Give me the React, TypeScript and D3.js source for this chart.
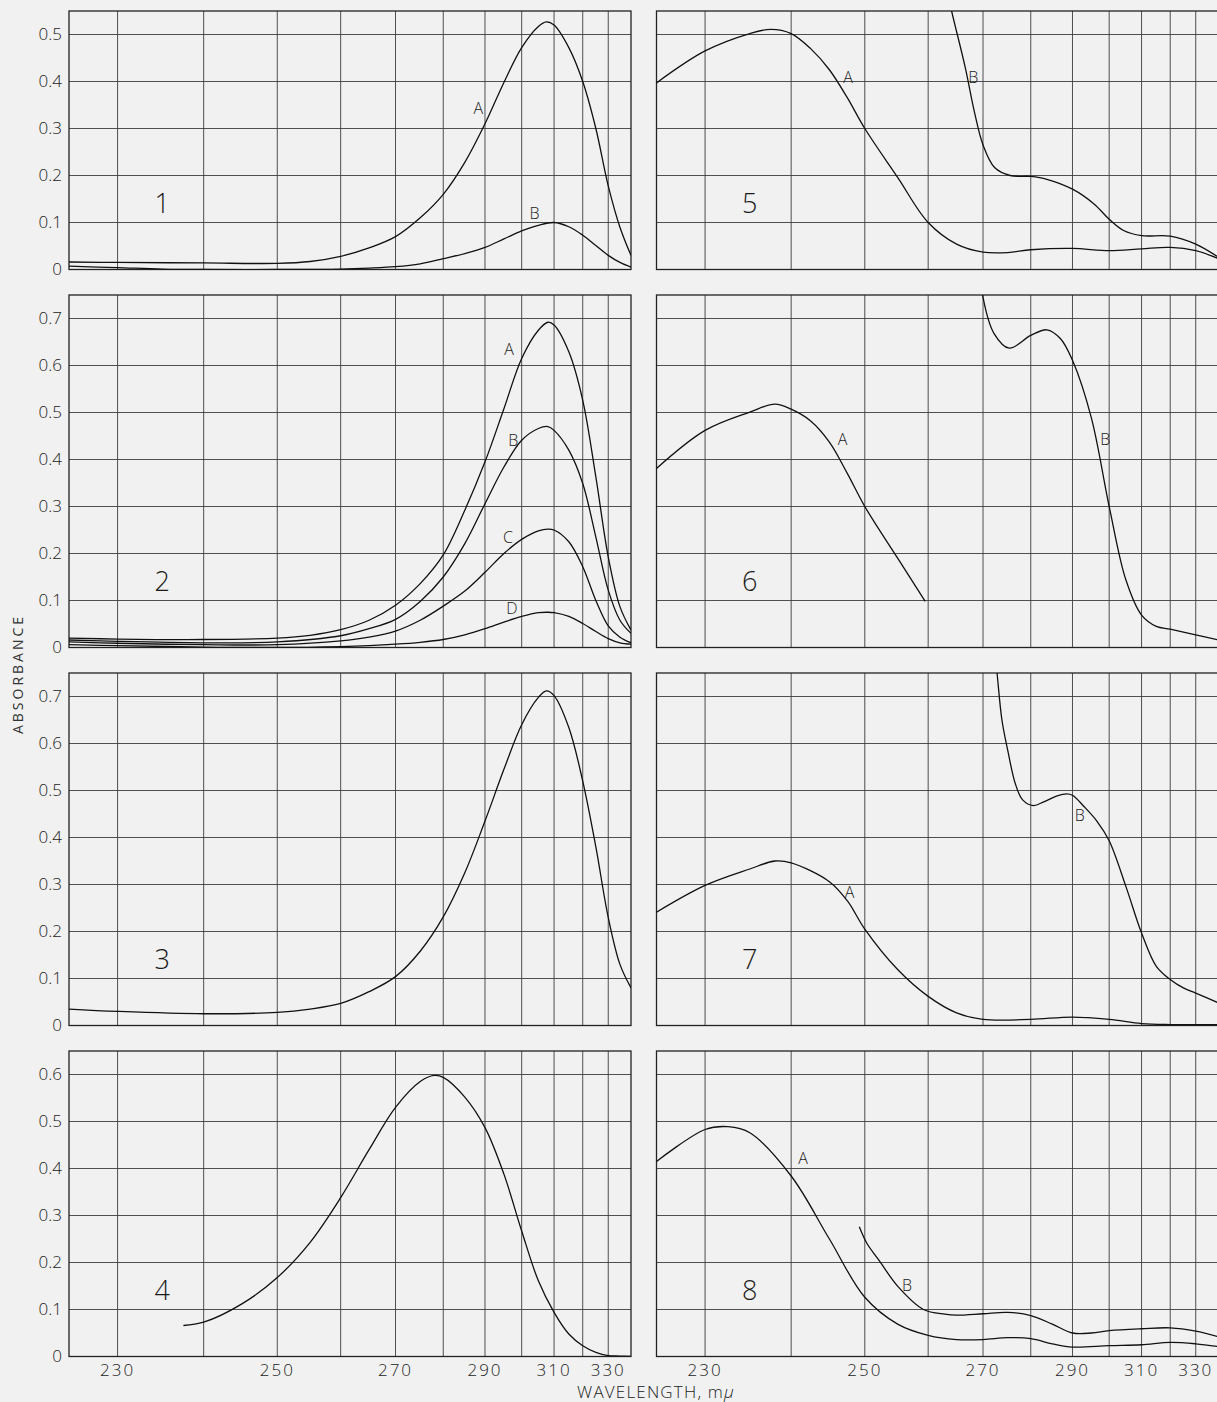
import React, { useEffect, useRef } from "react";
import * as d3 from "d3";

type Pt = [number, number];

// wavelength grid (mμ) and tick labels
const gridWavelengths = [230, 240, 250, 260, 270, 280, 290, 300, 310, 320, 330];
const wavelengthTicks = [230, 250, 270, 290, 310, 330];
const ticks055 = [0, 0.1, 0.2, 0.3, 0.4, 0.5];
const ticks065 = [0, 0.1, 0.2, 0.3, 0.4, 0.5, 0.6];
const ticks075 = [0, 0.1, 0.2, 0.3, 0.4, 0.5, 0.6, 0.7];

// panel 1
const p1A: Pt[] = [[225, 0.016], [230, 0.015], [240, 0.014], [250, 0.013], [255, 0.017], [260, 0.028], [265, 0.046], [270, 0.07], [275, 0.11], [280, 0.16], [285, 0.228], [290, 0.31], [295, 0.398], [300, 0.472], [305, 0.517], [307.5, 0.527], [310, 0.52], [315, 0.472], [320, 0.4], [325, 0.3], [330, 0.178], [335, 0.09], [340, 0.03]];
const p1B: Pt[] = [[225, 0.007], [230, 0.004], [235, 0.001], [240, 0], [250, 0], [260, 0.001], [265, 0.003], [270, 0.006], [275, 0.012], [280, 0.023], [285, 0.034], [290, 0.047], [295, 0.065], [300, 0.082], [305, 0.094], [310, 0.1], [315, 0.091], [320, 0.073], [325, 0.051], [330, 0.03], [335, 0.015], [340, 0.005]];

// panel 2
const p2A: Pt[] = [[225, 0.02], [230, 0.018], [240, 0.017], [250, 0.02], [255, 0.026], [260, 0.038], [265, 0.058], [270, 0.09], [275, 0.136], [280, 0.197], [285, 0.292], [290, 0.395], [295, 0.508], [300, 0.615], [305, 0.675], [308, 0.692], [310, 0.686], [315, 0.629], [320, 0.526], [325, 0.363], [330, 0.193], [335, 0.087], [340, 0.037]];
const p2B: Pt[] = [[225, 0.016], [230, 0.013], [240, 0.01], [250, 0.012], [260, 0.025], [265, 0.04], [270, 0.06], [275, 0.098], [280, 0.15], [285, 0.221], [290, 0.306], [295, 0.384], [300, 0.441], [305, 0.466], [308, 0.47], [310, 0.462], [315, 0.42], [320, 0.349], [325, 0.235], [330, 0.122], [335, 0.058], [340, 0.03]];
const p2C: Pt[] = [[225, 0.012], [230, 0.009], [240, 0.006], [250, 0.006], [260, 0.014], [265, 0.022], [270, 0.035], [275, 0.058], [280, 0.088], [285, 0.12], [290, 0.16], [295, 0.2], [300, 0.23], [305, 0.248], [308, 0.252], [310, 0.25], [315, 0.225], [320, 0.172], [325, 0.1], [330, 0.046], [335, 0.022], [340, 0.01]];
const p2D: Pt[] = [[225, 0.006], [230, 0.004], [240, 0.001], [250, 0], [260, 0.002], [265, 0.004], [270, 0.007], [275, 0.011], [280, 0.017], [285, 0.027], [290, 0.04], [295, 0.054], [300, 0.066], [305, 0.074], [308, 0.075], [310, 0.074], [315, 0.066], [320, 0.051], [325, 0.034], [330, 0.019], [335, 0.01], [340, 0.007]];

// panel 3
const p3: Pt[] = [[225, 0.035], [230, 0.03], [240, 0.025], [250, 0.028], [255, 0.035], [260, 0.047], [265, 0.072], [270, 0.104], [275, 0.158], [280, 0.231], [285, 0.325], [290, 0.435], [295, 0.545], [300, 0.64], [305, 0.698], [307.5, 0.712], [310, 0.702], [315, 0.634], [320, 0.52], [325, 0.38], [330, 0.23], [335, 0.13], [340, 0.08]];

// panel 4
const p4: Pt[] = [[237.5, 0.066], [240, 0.073], [245, 0.112], [250, 0.168], [255, 0.243], [260, 0.338], [265, 0.44], [270, 0.53], [275, 0.585], [278, 0.598], [280, 0.594], [285, 0.552], [290, 0.487], [295, 0.388], [300, 0.267], [305, 0.161], [310, 0.094], [315, 0.048], [320, 0.023], [325, 0.009], [330, 0.002], [335, 0.001], [340, 0]];

// panel 5
const p5A: Pt[] = [[225, 0.397], [230, 0.465], [235, 0.502], [237.5, 0.511], [240, 0.502], [242.5, 0.47], [245, 0.425], [247.5, 0.365], [250, 0.3], [255, 0.196], [260, 0.1], [265, 0.054], [270, 0.037], [275, 0.036], [280, 0.042], [290, 0.045], [300, 0.04], [310, 0.044], [320, 0.047], [330, 0.04], [340, 0.023]];
const p5B: Pt[] = [[262.6, 0.63], [264.1, 0.55], [266.6, 0.43], [268.3, 0.337], [270, 0.265], [272.3, 0.217], [275.5, 0.2], [280, 0.198], [283.7, 0.192], [290, 0.171], [295.8, 0.139], [300, 0.107], [304.3, 0.083], [310, 0.072], [320, 0.071], [330, 0.054], [340, 0.026]];

// panel 6
const p6A: Pt[] = [[225, 0.381], [230, 0.462], [235, 0.501], [238, 0.518], [240, 0.507], [242.5, 0.482], [245, 0.437], [247.5, 0.37], [250, 0.3], [255, 0.19], [259.5, 0.098]];
const p6B: Pt[] = [[269.6, 0.79], [270, 0.745], [272.2, 0.668], [275.3, 0.637], [280, 0.664], [283.7, 0.676], [287, 0.657], [290, 0.611], [295, 0.488], [300, 0.3], [305, 0.144], [310, 0.069], [315, 0.045], [320, 0.039], [330, 0.027], [340, 0.016]];

// panel 7
const p7A: Pt[] = [[225, 0.241], [230, 0.298], [235, 0.333], [238, 0.35], [240, 0.346], [245, 0.306], [247.5, 0.265], [250, 0.205], [255, 0.119], [260, 0.062], [265, 0.027], [270, 0.013], [280, 0.013], [290, 0.018], [300, 0.013], [310, 0.004], [320, 0.002], [330, 0.002], [340, 0.002]];
const p7B: Pt[] = [[272.4, 0.79], [272.8, 0.75], [273.8, 0.65], [275, 0.586], [276.6, 0.515], [278.2, 0.48], [280.6, 0.468], [283, 0.476], [286, 0.488], [288.5, 0.493], [290, 0.49], [293, 0.466], [296.5, 0.435], [300, 0.393], [305, 0.296], [310, 0.197], [315, 0.126], [320, 0.098], [325, 0.08], [330, 0.069], [340, 0.048]];

// panel 8
const p8A: Pt[] = [[225, 0.415], [230, 0.483], [232.5, 0.489], [235, 0.476], [240, 0.384], [245, 0.25], [250, 0.126], [255, 0.069], [260, 0.045], [265, 0.036], [270, 0.036], [275, 0.04], [280, 0.038], [285, 0.027], [290, 0.02], [300, 0.023], [310, 0.025], [320, 0.03], [330, 0.027], [340, 0.021]];
const p8B: Pt[] = [[249.2, 0.276], [250.3, 0.241], [252.1, 0.205], [255.1, 0.148], [259.2, 0.1], [262.9, 0.09], [265, 0.088], [270, 0.091], [275, 0.094], [280, 0.087], [285, 0.069], [290, 0.05], [295, 0.05], [300, 0.055], [310, 0.059], [320, 0.061], [330, 0.054], [340, 0.042]];

interface Series {
  name: string;
  data: Pt[];
  label?: Pt; // label anchor in data units
}

interface Panel {
  id: number;
  col: number;
  row: number;
  yMax: number;
  ticks: number[];
  series: Series[];
}

const panels: Panel[] = [
  { id: 1, col: 0, row: 0, yMax: 0.55, ticks: ticks055, series: [
    { name: "A", data: p1A, label: [288.3, 0.343] },
    { name: "B", data: p1B, label: [303.8, 0.12] },
  ] },
  { id: 2, col: 0, row: 1, yMax: 0.75, ticks: ticks075, series: [
    { name: "A", data: p2A, label: [296.4, 0.634] },
    { name: "B", data: p2B, label: [297.6, 0.44] },
    { name: "C", data: p2C, label: [296.1, 0.234] },
    { name: "D", data: p2D, label: [297.2, 0.083] },
  ] },
  { id: 3, col: 0, row: 2, yMax: 0.75, ticks: ticks075, series: [{ name: "", data: p3 }] },
  { id: 4, col: 0, row: 3, yMax: 0.65, ticks: ticks065, series: [{ name: "", data: p4 }] },
  { id: 5, col: 1, row: 0, yMax: 0.55, ticks: ticks055, series: [
    { name: "A", data: p5A, label: [247.6, 0.41] },
    { name: "B", data: p5B, label: [268.1, 0.41] },
  ] },
  { id: 6, col: 1, row: 1, yMax: 0.75, ticks: ticks075, series: [
    { name: "A", data: p6A, label: [246.8, 0.443] },
    { name: "B", data: p6B, label: [298.9, 0.443] },
  ] },
  { id: 7, col: 1, row: 2, yMax: 0.75, ticks: ticks075, series: [
    { name: "A", data: p7A, label: [247.8, 0.283] },
    { name: "B", data: p7B, label: [291.9, 0.447] },
  ] },
  { id: 8, col: 1, row: 3, yMax: 0.65, ticks: ticks065, series: [
    { name: "A", data: p8A, label: [241.5, 0.421] },
    { name: "B", data: p8B, label: [256.5, 0.151] },
  ] },
];

const W = 1217;
const H = 1402;
const colX = [69, 656.5];
const rowTops = [11, 295, 673, 1051];
const panelW = 562;
const pxPerUnit = 470;
const FONT = "'Open Sans', 'DejaVu Sans', sans-serif";
const INK = "#222";

export default function App() {
  const ref = useRef<SVGSVGElement | null>(null);

  useEffect(() => {
    const svg = d3.select(ref.current);
    svg.selectAll("*").remove();

    svg.append("rect").attr("width", W).attr("height", H).attr("fill", "#f1f1f1");

    // dispersion-like wavelength scale of the recording chart
    const x = d3.scalePow().exponent(-2.75).domain([225, 340]).range([0, panelW]);

    panels.forEach((p) => {
      const h = p.yMax * pxPerUnit;
      const y = d3.scaleLinear().domain([0, p.yMax]).range([h, 0]);
      const g = svg
        .append("g")
        .attr("transform", `translate(${colX[p.col]},${rowTops[p.row]})`);

      const clipId = `clip-${p.id}`;
      g.append("clipPath").attr("id", clipId).append("rect").attr("width", panelW).attr("height", h);

      const grid = g.append("g").attr("stroke", "#3c3c3c").attr("stroke-width", 0.9);
      grid
        .selectAll("line.v")
        .data(gridWavelengths)
        .join("line")
        .attr("class", "v")
        .attr("x1", (d) => x(d))
        .attr("x2", (d) => x(d))
        .attr("y1", 0)
        .attr("y2", h);
      grid
        .selectAll("line.h")
        .data(p.ticks.filter((t) => t > 0))
        .join("line")
        .attr("class", "h")
        .attr("x1", 0)
        .attr("x2", panelW)
        .attr("y1", (d) => y(d))
        .attr("y2", (d) => y(d));

      g.append("rect")
        .attr("width", panelW)
        .attr("height", h)
        .attr("fill", "none")
        .attr("stroke", "#222")
        .attr("stroke-width", 1.3);

      const line = d3
        .line<Pt>()
        .x((d) => x(d[0]))
        .y((d) => y(d[1]))
        .curve(d3.curveCatmullRom.alpha(0.5));

      const curves = g.append("g").attr("clip-path", `url(#${clipId})`);
      p.series.forEach((s) => {
        curves
          .append("path")
          .attr("d", line(s.data))
          .attr("fill", "none")
          .attr("stroke", "#111")
          .attr("stroke-width", 1.3);
        if (s.label) {
          g.append("text")
            .attr("x", x(s.label[0]))
            .attr("y", y(s.label[1]))
            .attr("dy", "0.36em")
            .attr("text-anchor", "middle")
            .attr("font-family", FONT)
            .attr("font-weight", 300)
            .attr("font-size", 16)
            .attr("fill", INK)
            .text(s.name);
        }
      });

      // panel number
      g.append("text")
        .attr("x", x(235))
        .attr("y", y(0.14))
        .attr("dy", "0.36em")
        .attr("text-anchor", "middle")
        .attr("font-family", FONT)
        .attr("font-weight", 300)
        .attr("font-size", 27)
        .attr("fill", "#1a1a1a")
        .text(String(p.id));

      if (p.col === 0) {
        g.selectAll("text.ytick")
          .data(p.ticks)
          .join("text")
          .attr("class", "ytick")
          .attr("x", -7)
          .attr("y", (d) => y(d))
          .attr("dy", "0.34em")
          .attr("text-anchor", "end")
          .attr("font-family", FONT)
          .attr("font-weight", 300)
          .attr("font-size", 17)
          .attr("fill", INK)
          .text((d) => (d === 0 ? "0" : d3.format(".1f")(d)));
      }

      if (p.row === 3) {
        g.selectAll("text.xtick")
          .data(wavelengthTicks)
          .join("text")
          .attr("class", "xtick")
          .attr("x", (d) => x(d))
          .attr("y", h + 19)
          .attr("text-anchor", "middle")
          .attr("font-family", FONT)
          .attr("font-weight", 300)
          .attr("font-size", 17)
          .attr("fill", INK)
          .attr("letter-spacing", 2)
          .text((d) => String(d));
      }
    });

    svg
      .append("text")
      .attr("transform", "translate(23,674) rotate(-90)")
      .attr("text-anchor", "middle")
      .attr("font-family", FONT)
      .attr("font-weight", 400)
      .attr("font-size", 14)
      .attr("letter-spacing", 3)
      .attr("fill", "#333")
      .text("ABSORBANCE");

    const xt = svg
      .append("text")
      .attr("x", 656)
      .attr("y", 1398)
      .attr("text-anchor", "middle")
      .attr("font-family", FONT)
      .attr("font-weight", 300)
      .attr("font-size", 17)
      .attr("letter-spacing", 1.2)
      .attr("fill", INK);
    xt.append("tspan").text("WAVELENGTH, m");
    xt.append("tspan").attr("font-style", "italic").text("μ");
  }, []);

  return (
    <svg
      ref={ref}
      width={W}
      height={H}
      style={{ position: "absolute", left: 0, top: 0, display: "block" }}
    ></svg>
  );
}
